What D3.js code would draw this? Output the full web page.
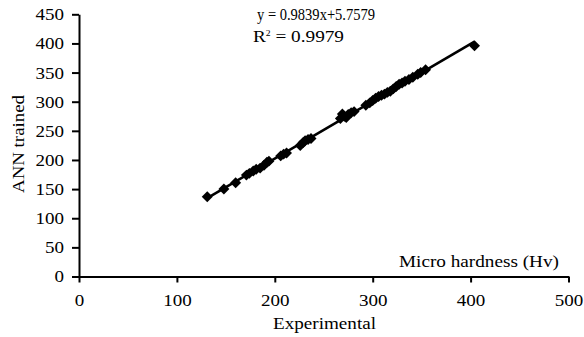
<!DOCTYPE html>
<html>
<head>
<meta charset="utf-8">
<script src="https://cdn.jsdelivr.net/npm/d3@7"></script>
<style>
  html, body { margin: 0; padding: 0; background: #fff; }
  svg, svg text { font-family: 'Liberation Serif', 'Times New Roman', Times, serif; }
</style>
</head>
<body>
<svg id="chart" width="584" height="337"></svg>
<script>
// measured (experimental) vs ANN trained micro hardness, Hv
const experimental = [131, 148, 160, 171, 174, 178, 181, 185, 189, 192, 194, 206, 209, 212,
  226, 229, 231, 234, 237, 267, 269, 271, 273, 275, 278, 281, 293, 297, 300, 303, 306, 309,
  312, 315, 318, 321, 324, 327, 330, 333, 337, 341, 346, 349, 354, 404];
const annTrained = [137, 150, 161, 174, 177, 181, 184, 186, 191, 196, 198, 207, 210, 212,
  225, 230, 233, 235, 237, 271, 279, 275, 273, 278, 281, 283, 294, 298, 302, 306, 309, 311,
  313, 316, 318, 322, 326, 330, 332, 335, 338, 342, 347, 350, 355, 396];

const xTicks = [0, 100, 200, 300, 400, 500];
const yTicks = [0, 50, 100, 150, 200, 250, 300, 350, 400, 450];

// linear trendline
const fitSlope = 0.9839;
const fitIntercept = 5.7579;
const fitR2 = 0.9979;

const FONT = "'Liberation Serif', 'Times New Roman', Times, serif";
const svg = d3.select('#chart');
const stretch = 1.12;   // the source type is a bit wide

const x = d3.scaleLinear().domain([0, 500]).range([79, 568.5]);
const y = d3.scaleLinear().domain([0, 450]).range([276.5, 14.3]);

// y axis
const gy = svg.append('g')
  .attr('transform', `translate(${x(0)},0)`)
  .call(d3.axisLeft(y).tickValues(yTicks).tickSize(7).tickSizeOuter(0));
gy.selectAll('.tick text')
  .attr('x', -15 / stretch)
  .attr('transform', `scale(${stretch},1)`);

// x axis
const gx = svg.append('g')
  .attr('transform', `translate(0,${y(0)})`)
  .call(d3.axisBottom(x).tickValues(xTicks).tickSize(6).tickSizeOuter(0));
gx.selectAll('.tick text')
  .attr('y', 30).attr('dy', 0)
  .attr('transform', `scale(${stretch},1)`);

svg.selectAll('g').attr('font-family', FONT);
svg.selectAll('.domain, .tick line')
  .attr('stroke', '#000')
  .attr('stroke-width', 2);
svg.selectAll('.tick text')
  .attr('fill', '#000')
  .attr('font-family', FONT)
  .attr('font-size', 17);

// trendline
const xMin = d3.min(experimental), xMax = d3.max(experimental);
svg.append('line')
  .attr('x1', x(xMin)).attr('y1', y(fitSlope * xMin + fitIntercept))
  .attr('x2', x(xMax)).attr('y2', y(fitSlope * xMax + fitIntercept))
  .attr('stroke', '#000')
  .attr('stroke-width', 2.6);

// points
const diamond = d3.symbol(d3.symbolSquare, 60);
svg.append('g').selectAll('path')
  .data(experimental.map((v, i) => [v, annTrained[i]]))
  .join('path')
  .attr('d', diamond)
  .attr('transform', d => `translate(${x(d[0])},${y(d[1])}) rotate(45)`)
  .attr('fill', '#000');

// titles
function label(txt, xPos, yPos, size, len, transform) {
  const t = svg.append('text')
    .attr('font-family', FONT)
    .attr('font-size', size)
    .attr('textLength', len).attr('lengthAdjust', 'spacingAndGlyphs');
  if (transform) t.attr('transform', transform);
  else t.attr('x', xPos).attr('y', yPos);
  if (txt) t.text(txt);
  return t;
}

label('Experimental', 273, 329, 17, 103);
label('Micro hardness (Hv)', 399, 266.5, 17, 160);
label('ANN trained', 0, 0, 17, 98, 'translate(24,193) rotate(-90)');

// regression annotation
label(`y = ${fitSlope}x+${fitIntercept}`, 257, 20, 16, 118);

const r2 = label(null, 253, 41.7, 16, 91);
r2.append('tspan').text('R');
r2.append('tspan').attr('dy', -6).attr('font-size', 8).text('2');
r2.append('tspan').attr('dy', 6).text(` = ${fitR2}`);
</script>
</body>
</html>
